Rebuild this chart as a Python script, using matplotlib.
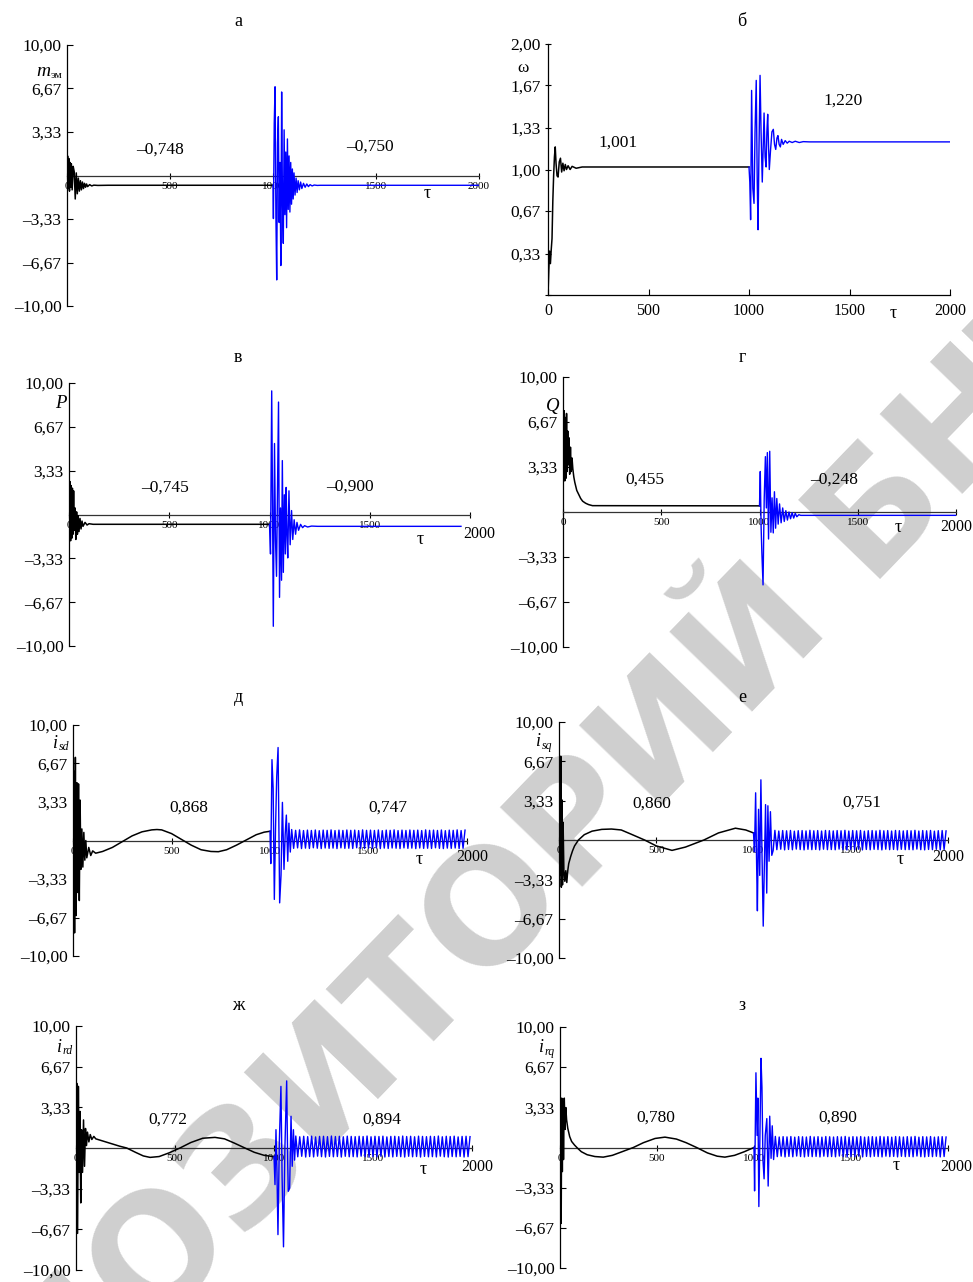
import matplotlib
matplotlib.use('Agg')
import matplotlib.pyplot as plt

plt.rcParams['font.family'] = ['Liberation Serif', 'DejaVu Serif']

# ---------------- data ----------------
# а: electromagnetic torque m_эм
m_black_tau = [0, 3, 6, 9, 12, 15, 18, 21, 25, 30, 35, 40, 45, 50, 55, 60, 65, 70, 75, 80,
               85, 90, 95, 100, 110, 120, 130, 150, 200, 1000]
m_black_val = [0, 1.5, -1.0, 1.3, -1.2, 1.0, -0.9, 0.9, -1.1, 0.7, 0.3, -1.8, 0.2, -1.4, -0.2, -1.2, -0.4, -1.1, -0.5, -1.0,
               -0.6, -0.9, -0.65, -0.85, -0.7, -0.8, -0.74, -0.76, -0.748, -0.748]
m_blue_tau = [1000, 1002, 1006, 1010, 1014, 1018, 1022, 1026, 1030, 1034, 1038, 1042, 1046, 1050, 1054,
              1058, 1062, 1066, 1070, 1074, 1078, 1082, 1086, 1090, 1094, 1098, 1102, 1107, 1112, 1117,
              1122, 1128, 1134, 1140, 1148, 1156, 1164, 1172, 1180, 1190, 1200, 1215, 1230, 2000]
m_blue_val = [-0.75, -3.3, 4.0, 6.8, -3.0, -8.0, 2.5, 4.5, -3.6, 1.0, -6.9, 6.4, -2.0, -5.2, 3.5,
              -3.0, 1.8, -4.0, 2.8, -2.6, 1.5, -2.8, 1.0, -2.2, 0.5, -1.8, 0.2, -1.5, -0.2, -1.3,
              -0.4, -1.1, -0.5, -1.0, -0.6, -0.9, -0.65, -0.85, -0.7, -0.8, -0.73, -0.76, -0.75, -0.75]

# б: rotor speed ω
w_black_tau = [0, 4, 8, 12, 16, 20, 24, 28, 32, 36, 40, 45, 50, 56, 62, 68, 74, 80, 86, 92,
               100, 110, 120, 140, 170, 200, 1000]
w_black_val = [0.0, 0.2, 0.35, 0.25, 0.36, 0.45, 0.75, 0.95, 1.10, 1.18, 1.05, 0.95, 0.94, 1.06, 1.09, 0.98, 1.05, 0.99, 1.04, 1.0,
               1.03, 1.0, 1.025, 1.01, 1.02, 1.02, 1.02]
w_blue_tau = [1000, 1004, 1008, 1013, 1019, 1025, 1030, 1036, 1041, 1045, 1050, 1055, 1060, 1066, 1071,
              1075, 1080, 1085, 1089, 1093, 1097, 1101, 1107, 1114, 1121, 1127, 1133, 1139, 1144, 1150,
              1156, 1162, 1170, 1180, 1190, 1200, 1215, 1230, 1250, 1270, 1300, 2000]
w_blue_val = [1.02, 0.9, 0.6, 1.63, 0.85, 0.73, 1.3, 1.71, 0.9, 0.52, 1.2, 1.75, 1.3, 0.9, 1.2,
              1.45, 1.1, 1.02, 1.3, 1.44, 1.2, 1.0, 1.15, 1.3, 1.32, 1.2, 1.16, 1.25, 1.27, 1.2,
              1.18, 1.24, 1.2, 1.23, 1.21, 1.225, 1.215, 1.225, 1.215, 1.222, 1.22, 1.22]

# в: active power P
p_black_tau = [0, 2, 5, 8, 11, 14, 17, 20, 23, 26, 30, 34, 38, 42, 46, 50, 55, 60, 65, 70,
               80, 90, 100, 120, 1000]
p_black_val = [4.0, -1.5, 2.5, -2.0, 2.2, -1.8, 2.0, -1.5, 1.8, -1.2, 0.5, -1.9, 0.2, -1.5, -0.1, -1.3, -0.3, -1.1, -0.5, -0.9,
               -0.6, -0.8, -0.7, -0.745, -0.745]
p_blue_tau = [1000, 1005, 1011, 1015, 1019, 1025, 1030, 1035, 1040, 1045, 1050, 1055, 1060, 1064, 1069,
              1074, 1079, 1083, 1087, 1091, 1097, 1103, 1110, 1116, 1123, 1130, 1137, 1145, 1155, 1165,
              1175, 1190, 1210, 1240, 1955]
p_blue_val = [-0.745, -3.0, 9.4, 1.0, -8.5, 5.4, -2.0, -4.7, 2.0, 8.55, -6.3, 0.5, -5.0, 4.1, -4.4,
              1.5, -3.0, 2.06, -1.5, -3.3, 1.8, -2.3, 0.3, -1.9, -0.4, -1.5, -0.6, -1.2, -0.75, -1.0,
              -0.85, -0.95, -0.88, -0.9, -0.9]

# г: reactive power Q
q_black_tau = [0, 3, 6, 9, 12, 15, 18, 21, 24, 27, 30, 34, 38, 42, 46, 50, 55, 60, 70, 80,
               90, 100, 115, 130, 150, 1000]
q_black_val = [8.2, 3.0, 7.5, 2.3, 7.0, 2.5, 7.3, 3.0, 6.0, 3.5, 5.5, 2.8, 4.8, 3.0, 4.0, 3.2, 2.6, 2.2, 1.6, 1.3,
               1.0, 0.8, 0.65, 0.55, 0.47, 0.455]
q_blue_tau = [1000, 1004, 1008, 1012, 1018, 1024, 1030, 1035, 1040, 1046, 1052, 1058, 1064, 1070, 1076,
              1082, 1088, 1095, 1102, 1110, 1118, 1126, 1134, 1142, 1150, 1158, 1166, 1174, 1182, 1190,
              1200, 1210, 2000]
q_blue_val = [0.455, 3.0, -1.0, -3.0, -5.4, 1.0, 4.1, 0.3, 4.4, -2.0, 4.5, -1.5, 1.05, -1.55, 1.5,
              -1.2, 1.0, -0.9, 0.6, -0.8, 0.3, -0.7, 0.1, -0.6, 0.0, -0.5, -0.05, -0.45, -0.1, -0.35,
              -0.2, -0.25, -0.248]

# д: stator current i_sd
isd_black_tau = [0, 4, 8, 12, 16, 20, 24, 28, 32, 36, 40, 45, 50, 55, 60, 65, 70, 80, 90, 100,
                 115, 150, 200, 250, 300, 350, 400, 426, 450, 500, 550, 600, 650, 700, 738, 780, 830, 880, 930, 970,
                 1000]
isd_black_val = [0, 6.0, -8.0, 7.2, -6.5, 5.0, -4.5, 4.9, -5.2, 3.5, -2.5, 1.0, -2.3, 0.7, -1.7, 0.0, -1.5, -0.6, -1.3, -0.9,
                 -1.1, -0.95, -0.6, -0.1, 0.4, 0.75, 0.92, 0.95, 0.92, 0.6, 0.1, -0.4, -0.8, -0.95, -0.97, -0.8, -0.4, 0.05, 0.5, 0.72,
                 0.8]
isd_blue_tau = [1000, 1004, 1010, 1016, 1022, 1028, 1034, 1041, 1049, 1056, 1063, 1071, 1077, 1083, 1090, 1096, 1103]
isd_blue_val = [0.8, -2.0, 7.0, 4.5, -5.1, 1.0, 5.5, 8.05, -5.4, -3.0, 3.3, -2.5, 0.5, 2.2, -1.8, 1.5, -1.0]

# е: stator current i_sq
isq_black_tau = [0, 3, 6, 9, 12, 15, 18, 21, 25, 30, 35, 40, 45, 50, 60, 70, 80, 100, 130, 170,
                 220, 270, 320, 370, 440, 500, 581, 650, 745, 820, 907, 960, 1000]
isq_black_val = [0, 4.0, -3.0, 7.1, -4.0, 3.4, -3.8, 1.5, -2.5, -3.5, -2.6, -3.6, -2.6, -2.0, -1.4, -0.9, -0.5, 0.0, 0.45, 0.75,
                 0.9, 0.93, 0.85, 0.5, 0.0, -0.5, -0.88, -0.6, 0.0, 0.6, 1.0, 0.85, 0.6]
isq_blue_tau = [1000, 1005, 1011, 1016, 1020, 1026, 1032, 1038, 1044, 1050, 1056, 1062, 1068, 1074, 1080, 1087, 1094, 1101]
isq_blue_val = [0.6, -1.0, 4.0, -2.0, -6.0, 2.6, -3.0, 5.1, -1.5, -7.3, -2.0, 3.0, -4.5, 2.9, -1.8, 2.4, -1.3, -0.9]

# ж: rotor current i_rd
ird_black_tau = [0, 4, 8, 12, 16, 20, 24, 28, 33, 38, 43, 48, 53, 58, 65, 72, 80, 90, 100, 130,
                 170, 220, 256, 300, 340, 374, 420, 470, 525, 580, 640, 702, 750, 800, 853, 900, 950, 990, 1000]
ird_black_val = [0, 5.3, -7.0, 5.05, -2.0, 3.0, -4.5, 1.5, -2.0, 2.3, -1.5, 1.6, 0.2, 1.3, 0.5, 1.1, 0.7, 0.95, 0.75, 0.6,
                 0.4, 0.15, 0.0, -0.35, -0.65, -0.77, -0.7, -0.4, 0.0, 0.45, 0.8, 0.87, 0.75, 0.4, 0.0, -0.35, -0.6, -0.69, -0.7]
ird_blue_tau = [1000, 1005, 1010, 1015, 1020, 1027, 1035, 1041, 1048, 1055, 1064, 1069, 1072, 1079, 1086, 1092, 1098, 1104]
ird_blue_val = [-0.7, -3.0, 1.5, -2.0, -7.1, 0.5, 5.05, -2.5, -8.1, 0.0, 5.5, -1.0, -3.55, -3.3, 2.6, -1.5, 1.5, -1.0]

# з: rotor current i_rq
irq_black_tau = [0, 3, 6, 9, 12, 15, 18, 22, 26, 30, 34, 40, 50, 60, 75, 90, 110, 140, 180, 223,
                 270, 320, 378, 430, 490, 541, 600, 650, 704, 760, 810, 850, 900, 950, 1000]
irq_black_val = [0, 3.6, -6.3, 4.1, -2.0, 3.8, -1.0, 4.1, 1.5, 3.3, 2.3, 1.6, 0.9, 0.5, 0.2, -0.05, -0.35, -0.6, -0.75, -0.8,
                 -0.65, -0.35, 0.0, 0.4, 0.75, 0.86, 0.7, 0.4, 0.0, -0.45, -0.72, -0.8, -0.65, -0.35, 0.0]
irq_blue_tau = [1000, 1003, 1010, 1016, 1020, 1025, 1031, 1036, 1041, 1046, 1052, 1058, 1066, 1073, 1081, 1088, 1094, 1101]
irq_blue_val = [0.0, -3.6, 6.2, 1.0, 4.1, -4.9, 1.5, 7.4, 5.0, -1.0, -2.6, 1.0, 2.4, -3.2, 2.6, -0.9, 1.8, -1.0]

# steady-state ripple of the currents after the disturbance (peak / trough times)
ripple_tau = [1110, 1120, 1130, 1140, 1150, 1160, 1170, 1180, 1190, 1200, 1210, 1220, 1230, 1240, 1250,
              1260, 1270, 1280, 1290, 1300, 1310, 1320, 1330, 1340, 1350, 1360, 1370, 1380, 1390, 1400,
              1410, 1420, 1430, 1440, 1450, 1460, 1470, 1480, 1490, 1500, 1510, 1520, 1530, 1540, 1550,
              1560, 1570, 1580, 1590, 1600, 1610, 1620, 1630, 1640, 1650, 1660, 1670, 1680, 1690, 1700,
              1710, 1720, 1730, 1740, 1750, 1760, 1770, 1780, 1790, 1800, 1810, 1820, 1830, 1840, 1850,
              1860, 1870, 1880, 1890, 1900, 1910, 1920, 1930, 1940, 1950, 1960, 1970, 1980, 1990]
isd_hi = [0.95, 0.88, 0.92, 0.86, 0.9, 0.87, 0.91, 0.85, 0.9, 0.88, 0.92, 0.86, 0.9, 0.87, 0.91,
          0.88, 0.9, 0.86, 0.92, 0.88, 0.9, 0.87, 0.91, 0.85, 0.9, 0.88, 0.92, 0.86, 0.9, 0.87,
          0.91, 0.88, 0.9, 0.86, 0.92, 0.88, 0.9, 0.87, 0.91, 0.85, 0.9, 0.88, 0.92, 0.86, 0.9]
isd_lo = [-0.68, -0.64, -0.7, -0.66, -0.69, -0.63, -0.67, -0.7, -0.65, -0.68, -0.66, -0.7, -0.64, -0.68, -0.67,
          -0.69, -0.63, -0.68, -0.7, -0.66, -0.68, -0.64, -0.7, -0.66, -0.69, -0.65, -0.67, -0.7, -0.64, -0.68,
          -0.66, -0.7, -0.65, -0.68, -0.67, -0.69, -0.63, -0.68, -0.7, -0.66, -0.68, -0.65, -0.7, -0.67]
isq_hi = [0.82, 0.76, 0.8, 0.78, 0.81, 0.75, 0.79, 0.8, 0.77, 0.82, 0.78, 0.8, 0.76, 0.81, 0.79,
          0.77, 0.8, 0.78, 0.82, 0.76, 0.8, 0.78, 0.81, 0.75, 0.79, 0.8, 0.77, 0.82, 0.78, 0.8,
          0.76, 0.81, 0.79, 0.77, 0.8, 0.78, 0.82, 0.76, 0.8, 0.78, 0.81, 0.75, 0.79, 0.8, 0.77]
isq_lo = [-0.82, -0.78, -0.84, -0.8, -0.83, -0.77, -0.81, -0.84, -0.79, -0.82, -0.8, -0.84, -0.78, -0.82, -0.81,
          -0.83, -0.77, -0.82, -0.84, -0.8, -0.82, -0.78, -0.84, -0.8, -0.83, -0.79, -0.81, -0.84, -0.78, -0.82,
          -0.8, -0.84, -0.79, -0.82, -0.81, -0.83, -0.77, -0.82, -0.84, -0.8, -0.82, -0.79, -0.84, -0.81]
ird_hi = [0.98, 0.92, 0.96, 0.93, 0.97, 0.91, 0.95, 0.96, 0.93, 0.98, 0.94, 0.96, 0.92, 0.97, 0.95,
          0.93, 0.96, 0.94, 0.98, 0.92, 0.96, 0.94, 0.97, 0.91, 0.95, 0.96, 0.93, 0.98, 0.94, 0.96,
          0.92, 0.97, 0.95, 0.93, 0.96, 0.94, 0.98, 0.92, 0.96, 0.94, 0.97, 0.91, 0.95, 0.96, 0.93]
ird_lo = [-0.72, -0.68, -0.74, -0.7, -0.73, -0.67, -0.71, -0.74, -0.69, -0.72, -0.7, -0.74, -0.68, -0.72, -0.71,
          -0.73, -0.67, -0.72, -0.74, -0.7, -0.72, -0.68, -0.74, -0.7, -0.73, -0.69, -0.71, -0.74, -0.68, -0.72,
          -0.7, -0.74, -0.69, -0.72, -0.71, -0.73, -0.67, -0.72, -0.74, -0.7, -0.72, -0.69, -0.74, -0.71]
irq_hi = [0.92, 0.87, 0.9, 0.88, 0.91, 0.86, 0.9, 0.89, 0.87, 0.92, 0.88, 0.9, 0.86, 0.91, 0.89,
          0.87, 0.9, 0.88, 0.92, 0.86, 0.9, 0.88, 0.91, 0.86, 0.89, 0.9, 0.87, 0.92, 0.88, 0.9,
          0.86, 0.91, 0.89, 0.87, 0.9, 0.88, 0.92, 0.86, 0.9, 0.88, 0.91, 0.86, 0.89, 0.9, 0.87]
irq_lo = [-0.76, -0.72, -0.78, -0.74, -0.77, -0.71, -0.75, -0.78, -0.73, -0.76, -0.74, -0.78, -0.72, -0.76, -0.75,
          -0.77, -0.71, -0.76, -0.78, -0.74, -0.76, -0.72, -0.78, -0.74, -0.77, -0.73, -0.75, -0.78, -0.72, -0.76,
          -0.74, -0.78, -0.73, -0.76, -0.75, -0.77, -0.71, -0.76, -0.78, -0.74, -0.76, -0.73, -0.78, -0.75]

pm_ticks = [-10, -6.67, -3.33, 0, 3.33, 6.67, 10]
pm_labels = ['–10,00', '–6,67', '–3,33', '', '3,33', '6,67', '10,00']
w_ticks = [0, 0.33, 0.67, 1.0, 1.33, 1.67, 2.0]
w_labels = ['', '0,33', '0,67', '1,00', '1,33', '1,67', '2,00']
x_ticks = [0, 500, 1000, 1500, 2000]


def with_ripple(tau, val, hi, lo):
    rv = []
    for i in range(len(ripple_tau)):
        rv.append(hi[i // 2] if i % 2 == 0 else lo[i // 2])
    return list(tau) + ripple_tau, list(val) + rv


# ---------------- figure ----------------
W, H = 973, 1282
fig = plt.figure(figsize=(W / 100, H / 100), dpi=100)


def txt(x, y, s, size=12.5, **kw):
    kw.setdefault('ha', 'center')
    kw.setdefault('va', 'center')
    fig.text(x / W, 1 - y / H, s, fontsize=size, **kw)


def sublabel(x, y, main, sub, size=13, subsize=8.5, italic_sub=True):
    txt(x, y, main, size=size, style='italic', ha='right')
    txt(x + 1, y + 4, sub, size=subsize, style='italic' if italic_sub else 'normal', ha='left')


def panel(box, black, blue, omega=False, x2000=(0, -12)):
    x0, x1, ytop, ybot = box
    ax = fig.add_axes([x0 / W, 1 - ybot / H, (x1 - x0) / W, (ybot - ytop) / H])
    ax.patch.set_alpha(0)
    ax.set_xlim(0, 2000)
    for s in ['top', 'right']:
        ax.spines[s].set_visible(False)
    for s in ['left', 'bottom']:
        ax.spines[s].set_linewidth(0.9)
    ax.plot(black[0], black[1], color='black', lw=1.1, zorder=3)
    ax.plot(blue[0], blue[1], color='#0000ff', lw=1.0, zorder=3)
    ax.set_xticks(x_ticks)
    if omega:
        ax.set_ylim(0, 2)
        ax.set_yticks(w_ticks)
        ax.set_yticklabels(w_labels, fontsize=12.5)
        ax.set_xticklabels(['0', '500', '1000', '1500', '2000'], fontsize=11.5)
        ax.tick_params(axis='x', direction='in', length=4, width=0.8, pad=6)
        ax.tick_params(axis='y', direction='inout', length=5, width=0.8, pad=3)
    else:
        ax.set_ylim(-10, 10)
        ax.spines['bottom'].set_position(('data', 0))
        ax.spines['bottom'].set_color('#333333')
        ax.set_yticks(pm_ticks)
        ax.set_yticklabels(pm_labels, fontsize=12.5)
        if x2000 is None:
            ax.set_xticklabels(['0', '500', '1000', '1500', '2000'], fontsize=8)
        else:
            ax.set_xticklabels(['0', '500', '1000', '1500', ''], fontsize=8)
            ax.annotate('2000', xy=(2000, 0), xytext=x2000, textcoords='offset points',
                        ha='center', va='center', fontsize=11.5, annotation_clip=False)
        ax.tick_params(axis='x', direction='inout', length=5, width=0.8, pad=2)
        ax.tick_params(axis='y', direction='in', length=4, width=0.8, pad=4)
    return ax


# а
panel((67, 479, 45, 306), (m_black_tau, m_black_val), (m_blue_tau, m_blue_val), x2000=None)
# б
panel((548, 950, 44, 295), (w_black_tau, w_black_val), (w_blue_tau, w_blue_val), omega=True)
# в
panel((69, 470, 383, 646), (p_black_tau, p_black_val), (p_blue_tau, p_blue_val), x2000=(7, -14))
# г
panel((563, 956, 377, 647), (q_black_tau, q_black_val), (q_blue_tau, q_blue_val), x2000=(0, -11))
# д
panel((73, 467, 725, 956), (isd_black_tau, isd_black_val),
      with_ripple(isd_blue_tau, isd_blue_val, isd_hi, isd_lo), x2000=(4, -12))
# е
panel((559, 948, 722, 958), (isq_black_tau, isq_black_val),
      with_ripple(isq_blue_tau, isq_blue_val, isq_hi, isq_lo), x2000=(0, -12))
# ж
panel((76, 472, 1026, 1270), (ird_black_tau, ird_black_val),
      with_ripple(ird_blue_tau, ird_blue_val, ird_hi, ird_lo), x2000=(4, -14))
# з
panel((560, 948, 1027, 1268), (irq_black_tau, irq_black_val),
      with_ripple(irq_blue_tau, irq_blue_val, irq_hi, irq_lo), x2000=(6, -14))

# panel letters
for s, x, y in [('а', 238, 22), ('б', 742, 22), ('в', 238, 357), ('г', 742, 357),
                ('д', 238, 698), ('е', 742, 698), ('ж', 238, 1005), ('з', 742, 1005)]:
    txt(x, y, s, size=13)

# axis names
sublabel(50, 72, 'm', 'эм', size=14, subsize=8, italic_sub=False)
txt(523, 68, 'ω', size=12.5)
txt(61, 404, 'P', size=13.5, style='italic')
txt(553, 406, 'Q', size=13.5, style='italic')
sublabel(58, 743, 'i', 'sd')
sublabel(541, 742, 'i', 'sq')
sublabel(62, 1047, 'i', 'rd')
sublabel(544, 1048, 'i', 'rq')

# τ labels
for x, y in [(427, 193), (893, 313), (420, 539), (898, 528), (419, 859), (900, 859), (423, 1169), (896, 1165)]:
    txt(x, y, 'τ', size=13)

# steady-state values
for s, x, y in [('–0,748', 160, 150), ('–0,750', 370, 147), ('1,001', 618, 143), ('1,220', 843, 101),
                ('–0,745', 165, 488), ('–0,900', 350, 487), ('0,455', 645, 480), ('–0,248', 834, 480),
                ('0,868', 189, 808), ('0,747', 388, 808), ('0,860', 652, 804), ('0,751', 862, 803),
                ('0,772', 168, 1120), ('0,894', 382, 1120), ('0,780', 656, 1118), ('0,890', 838, 1118)]:
    txt(x, y, s, size=12.5)

# repository watermark
fig.text(522 / W, 1 - 888 / H, 'РЕПОЗИТОРИЙ БНТУ', fontsize=112, family='DejaVu Sans',
         weight='bold', color='#cfcfcf', rotation=46, rotation_mode='anchor',
         ha='center', va='center', zorder=-10)

fig.savefig('out.png', dpi=100)
